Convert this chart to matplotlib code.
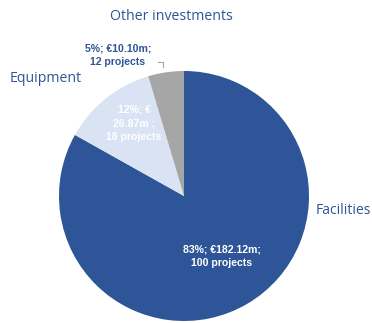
import matplotlib.pyplot as plt

# Investment split by category (EUR millions, number of projects)
categories = ['Facilities', 'Equipment', 'Other investments']
amounts = [182.12, 26.87, 10.10]
shares = [83, 12, 5]
projects = [100, 18, 12]
colors = ['#2D5597', '#DAE3F3', '#A6A6A6']

W, H = 372, 323
fig = plt.figure(figsize=(W / 100, H / 100), dpi=100)
ax = fig.add_axes([0, 0, 1, 1])

ax.pie(amounts, colors=colors, startangle=90, counterclock=False,
       center=(184, H - 196), radius=125, frame=True)
ax.set_xlim(0, W)
ax.set_ylim(0, H)
ax.set_aspect('equal')
ax.axis('off')

blue = '#2F5597'
font = 'Open Sans'
bold = 'Liberation Sans'

# category names
ax.text(316, H - 210, categories[0], color=blue, fontsize=10, family=font,
        ha='left', va='center')
ax.text(46, H - 78, categories[1], color=blue, fontsize=10.2, family=font,
        ha='center', va='center')
ax.text(171, H - 17, categories[2], color=blue, fontsize=10.2, family=font,
        ha='center', va='center')

# value labels
ax.text(222, H - 256, f'{shares[0]}%; €{amounts[0]:.2f}m;\n{projects[0]} projects',
        color='white', fontsize=7.6, family=bold, weight='bold',
        ha='center', va='center', linespacing=1.45)
ax.text(134, H - 123, f'{shares[1]}%; €\n{amounts[1]:.2f}m ;\n{projects[1]} projects',
        color='white', fontsize=7.6, family=bold, weight='bold',
        ha='center', va='center', linespacing=1.45)
ax.text(118, H - 55, f'{shares[2]}%; €{amounts[2]:.2f}m;\n{projects[2]} projects',
        color=blue, fontsize=7.6, family=bold, weight='bold',
        ha='center', va='center', linespacing=1.45)

# leader line for the small slice
ax.plot([158, 163, 163], [H - 62, H - 62, H - 67], color='#A6A6A6', lw=0.8)

fig.savefig('out.png', dpi=100)
